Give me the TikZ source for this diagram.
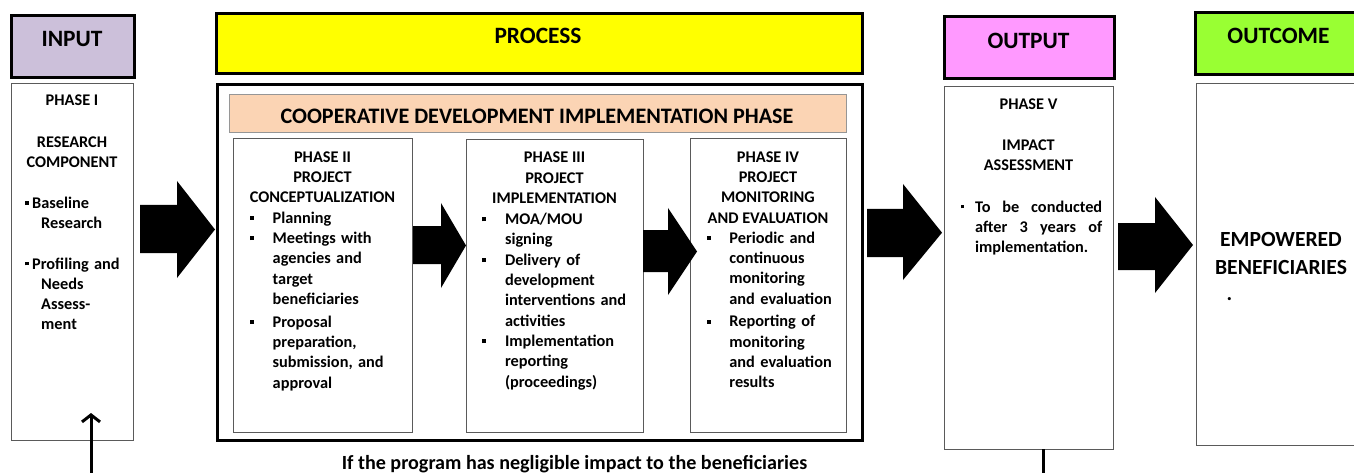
\documentclass[tikz,border=0pt]{standalone}
\usepackage{fontspec}
\setmainfont{Carlito}
\usetikzlibrary{arrows.meta,calc}

\definecolor{inlav}{RGB}{204,192,218}
\definecolor{procyel}{RGB}{255,255,0}
\definecolor{coopeach}{RGB}{251,212,180}
\definecolor{outpink}{RGB}{255,153,255}
\definecolor{outgreen}{RGB}{153,255,51}
\definecolor{thinline}{RGB}{90,90,90}
\definecolor{coopline}{RGB}{150,150,150}

% square bullets and hanging list items
\newlength\bulsz
\newcommand\bul{\raisebox{\dimexpr5.2pt-0.5\bulsz\relax}{\rule{\bulsz}{\bulsz}}}
\newcommand\bitem[3]{\hangindent=#1\hangafter=1\noindent\makebox[#2][l]{\bul}#3\par}

% rectangle node from its top-left and bottom-right corners
\newcommand\boxat[6]{\node[#2, anchor=north west, inner sep=0pt,
  minimum width={#5-#3}, minimum height={#6-#4}] (#1) at (#3,#4) {};}

% block arrow: shaft x0..x1 between ys1/ys2, head base x1 between yh1/yh2, tip (x2,yt)
\newcommand\blockarrow[8]{\fill[black] (#1,#4) -- (#2,#4) -- (#2,#6) -- (#3,#8)
  -- (#2,#7) -- (#2,#5) -- (#1,#5) -- cycle;}

\begin{document}
\begin{tikzpicture}[x=1pt,y=-1pt,
  hdr/.style={draw=black, line width=3pt},
  phasebox/.style={draw=thinline, line width=1pt, fill=white},
  hdrtxt/.style={font=\fontsize{23.4}{28}\selectfont\bfseries, inner sep=0pt, anchor=base},
  body/.style={font=\fontsize{16.3}{20.3}\selectfont\bfseries, inner sep=0pt},
  ttl/.style={body, align=center, anchor=north},
  lst/.style={body, anchor=north west, text width=#1},
  fb/.style={line width=3pt}
]
\useasboundingbox (0,0) rectangle (1354,473);
\fill[white] (0,0) rectangle (1354,473);

% ---- column headers
\boxat{inhdr}{hdr, fill=inlav}{10}{14}{133}{76}
\boxat{prochdr}{hdr, fill=procyel}{215}{12}{861}{72}
\boxat{outhdr}{hdr, fill=outpink}{943}{15}{1113}{77}
\boxat{ochdr}{hdr, fill=outgreen}{1194}{11}{1365}{73}
\node[hdrtxt] (inlbl) at (72,46.7) {INPUT};
\node[hdrtxt] (proclbl) at (538,43.3) {PROCESS};
\node[hdrtxt] (outlbl) at (1028.5,48.3) {OUTPUT};
\node[hdrtxt] (oclbl) at (1278.5,43.3) {OUTCOME};

% ---- column bodies
\boxat{phase1}{phasebox}{11}{83}{133}{440}
\boxat{procbox}{draw=black, line width=3pt}{216}{83}{861}{439}
\boxat{coop}{draw=coopline, line width=1pt, fill=coopeach}{229}{94}{846}{132}
\node[font=\fontsize{22.1}{26}\selectfont\bfseries, inner sep=0pt, anchor=base]
  (cooplbl) at (537,123.3) {COOPERATIVE DEVELOPMENT IMPLEMENTATION PHASE};
\boxat{phase2}{phasebox}{233}{138}{412}{432}
\boxat{phase3}{phasebox}{466}{139}{643}{432}
\boxat{phase4}{phasebox}{690}{138}{846}{432}
\boxat{phase5}{phasebox}{944}{86}{1113}{449}
\boxat{outcome}{phasebox}{1196}{83}{1365}{445}

% ---- phase I
\node[ttl] (p1t) at (72,95) {PHASE I\\[21.4pt]RESEARCH\\COMPONENT};
\node[lst=105pt] (p1l) at (25,196.5) {\setlength\bulsz{3.3pt}%
  \bitem{16pt}{7pt}{Baseline\newline Research}\vspace{20.3pt}%
  \bitem{16pt}{7pt}{Profiling and\newline Needs\newline Assess-\newline ment}};

% ---- phase II
\node[ttl] (p2t) at (322.5,151.5) {PHASE II\\PROJECT\\CONCEPTUALIZATION};
\node[lst=160pt] (p2l) at (249.5,211.5) {\setlength\bulsz{4pt}%
  \bitem{23pt}{23pt}{Planning}%
  \bitem{23pt}{23pt}{Meetings with\newline agencies and\newline target\newline beneficiaries}\vspace{2.5pt}%
  \bitem{23pt}{23pt}{Proposal\newline preparation,\newline submission, and\newline approval}};

% ---- phase III
\node[ttl] (p3t) at (554.5,152) {PHASE III\\PROJECT\\IMPLEMENTATION};
\node[lst=155pt] (p3l) at (481.5,213) {\setlength\bulsz{4pt}%
  \bitem{23.3pt}{23.3pt}{MOA/MOU\newline signing}%
  \bitem{23.3pt}{23.3pt}{Delivery of\newline development\newline interventions and\newline activities}%
  \bitem{23.3pt}{23.3pt}{Implementation\newline reporting\newline (proceedings)}};

% ---- phase IV
\node[ttl] (p4t) at (768,151.5) {PHASE IV\\PROJECT\\MONITORING\\AND EVALUATION};
\node[lst=138pt] (p4l) at (706.5,231.5) {\setlength\bulsz{4pt}%
  \bitem{22.7pt}{22.7pt}{Periodic and\newline continuous\newline monitoring\newline and evaluation}\vspace{2.5pt}%
  \bitem{22.7pt}{22.7pt}{Reporting of\newline monitoring\newline and evaluation\newline results}};

% ---- phase V
\node[ttl] (p5t) at (1028.5,98.8) {PHASE V\\[20.7pt]IMPACT\\ASSESSMENT};
\node[lst=150pt] (p5l) at (960.5,200.5) {\setlength\bulsz{3pt}%
  \bitem{14.5pt}{14.5pt}{\makebox[127pt][l]{To\hfill be\hfill conducted}\newline
  \makebox[127pt][l]{after\hfill 3\hfill years\hfill of}\newline implementation.}};

% ---- outcome
\node[font=\fontsize{21.6}{27.4}\selectfont\bfseries, inner sep=0pt, align=center, anchor=north]
  (oct) at (1281,232.6) {EMPOWERED\\BENEFICIARIES};
\node[font=\fontsize{21}{26}\selectfont\bfseries, inner sep=0pt, anchor=base]
  (ocdot) at (1229.3,300.5) {.};

% ---- block arrows between the columns and phases
\blockarrow{140}{177}{215}{205}{253}{181}{278}{229.5}
\blockarrow{413}{441}{466}{226}{264}{203}{288}{245.5}
\blockarrow{643}{668}{697}{230}{272}{208}{295}{251.5}
\blockarrow{867}{903}{942}{209}{257}{184}{280}{232.7}
\blockarrow{1118}{1155}{1193}{223}{270}{197}{293}{245}

% ---- feedback loop ends
\coordinate (loopin) at (91,476);
\coordinate (loopintip) at (91,413);
\draw[fb, -{Straight Barb[length=7pt,width=18pt]}] (loopin) -- (loopintip);
\coordinate (p5foot) at (1043,449);
\coordinate (loopout) at (1043,476);
\draw[fb] (p5foot) -- (loopout);

\node[font=\fontsize{20.1}{24}\selectfont\bfseries, inner sep=0pt, anchor=base]
  (cond) at (574.5,469.3) {If the program has negligible impact to the beneficiaries};
\end{tikzpicture}
\end{document}
